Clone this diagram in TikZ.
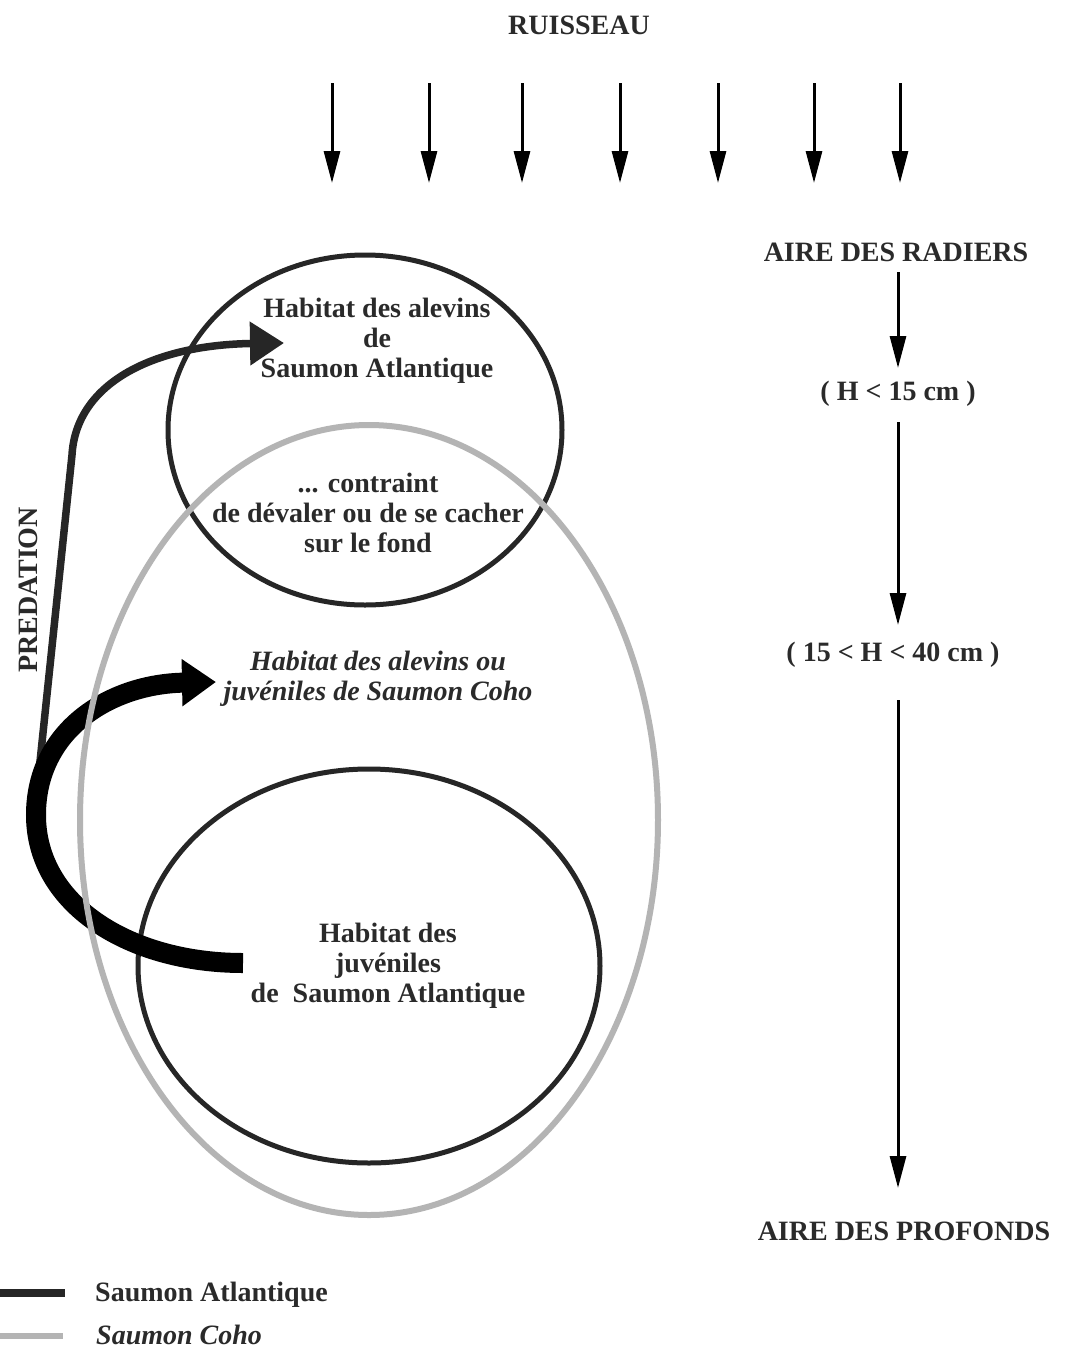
\documentclass[tikz,border=0pt]{standalone}
\usepackage{fontspec}
\setmainfont{Liberation Serif}
\usetikzlibrary{arrows.meta,shapes.geometric}
\definecolor{ink}{HTML}{262626}
\definecolor{txt}{HTML}{2A2A2A}
\definecolor{coho}{HTML}{B4B4B4}
\tikzset{
  lbl/.style={font=\fontsize{28}{30}\selectfont\bfseries, text=txt, align=center, inner sep=0pt},
  ilbl/.style={lbl, font=\fontsize{28}{30}\selectfont\bfseries\itshape},
  flow/.style={line width=3pt, draw=black, -{Triangle[length=32pt,width=16pt]}},
  ring/.style={ellipse, draw=ink, line width=5pt, inner sep=0pt},
  cohoring/.style={ellipse, draw=coho, line width=6pt, inner sep=0pt},
  thinpred/.style={line width=7.5pt, draw=ink, -{Triangle[length=34pt,width=42pt]}},
  thickpred/.style={line width=20pt, draw=black, -{Triangle[length=34pt,width=45pt]}},
}
\begin{document}
\begin{tikzpicture}[x=1pt,y=-1pt]
\path[use as bounding box, fill=white] (0,0) rectangle (1067,1350);

% title and stream arrows
\node[lbl] (ruisseau) at (579,25) {RUISSEAU};
\foreach \i/\xx in {1/332,2/429,3/522,4/620,5/718,6/814,7/900}{
  \coordinate (s\i) at (\xx,83);
  \coordinate (e\i) at (\xx,183);
  \draw[flow] (s\i) -- (e\i);
}

% right column
\node[lbl] (radiers) at (896,252) {AIRE DES RADIERS};
\node[lbl] (h15) at (898,394) {( H < 15 cm )};
\node[lbl] (h40) at (893,655) {( 15 < H < 40 cm )};
\node[lbl] (profonds) at (904,1231) {AIRE DES PROFONDS};
\coordinate (r1) at (898,272); \coordinate (r2) at (898,368);
\coordinate (r3) at (898,422); \coordinate (r4) at (898,625);
\coordinate (r5) at (898,700); \coordinate (r6) at (898,1188);
\draw[flow] (r1) -- (r2);
\draw[flow] (r3) -- (r4);
\draw[flow] (r5) -- (r6);

% habitat rings
\node[ring, minimum width=394pt, minimum height=350pt] (topring) at (365,430) {};
\node[ring, minimum width=462pt, minimum height=394pt] (botring) at (369,966) {};

% predation arrows
\coordinate (p0) at (36,800);
\coordinate (p1) at (72,455);
\coordinate (p2) at (284,343);
\draw[thinpred] (p0) -- (p1) .. controls (76,385) and (150,345) .. (p2);

\coordinate (q0) at (243,963);
\coordinate (q1) at (36,815);
\coordinate (q2) at (216,682);
\draw[thickpred] (q0) .. controls (130,963) and (36,905) .. (q1)
                      .. controls (36,730) and (110,684) .. (q2);

% coho ellipse (on top)
\node[cohoring, minimum width=578pt, minimum height=790pt] (cohoring) at (369,820) {};

% labels
\node[lbl] (alevinsSA) at (377,341) {Habitat des alevins\\de\\Saumon Atlantique};
\node[lbl] (contraint) at (368,513) {... contraint\\de dévaler ou de se cacher\\sur le fond};
\node[ilbl] (coho) at (378,679) {Habitat des alevins ou\\juvéniles de Saumon Coho};
\node[lbl] (juvSA) at (388,966) {Habitat des\\juvéniles\\de~~Saumon Atlantique};
\node[lbl, rotate=90] (predation) at (28,590) {PREDATION};

% legend
\coordinate (la0) at (0,1293); \coordinate (la1) at (65,1293);
\coordinate (lc0) at (0,1336); \coordinate (lc1) at (63,1336);
\draw[draw=ink, line width=8pt] (la0) -- (la1);
\draw[draw=coho, line width=6pt] (lc0) -- (lc1);
\node[lbl, anchor=west] (legSA) at (95,1295) {Saumon Atlantique};
\node[ilbl, anchor=west] (legC) at (96,1335) {Saumon Coho};
\end{tikzpicture}
\end{document}
